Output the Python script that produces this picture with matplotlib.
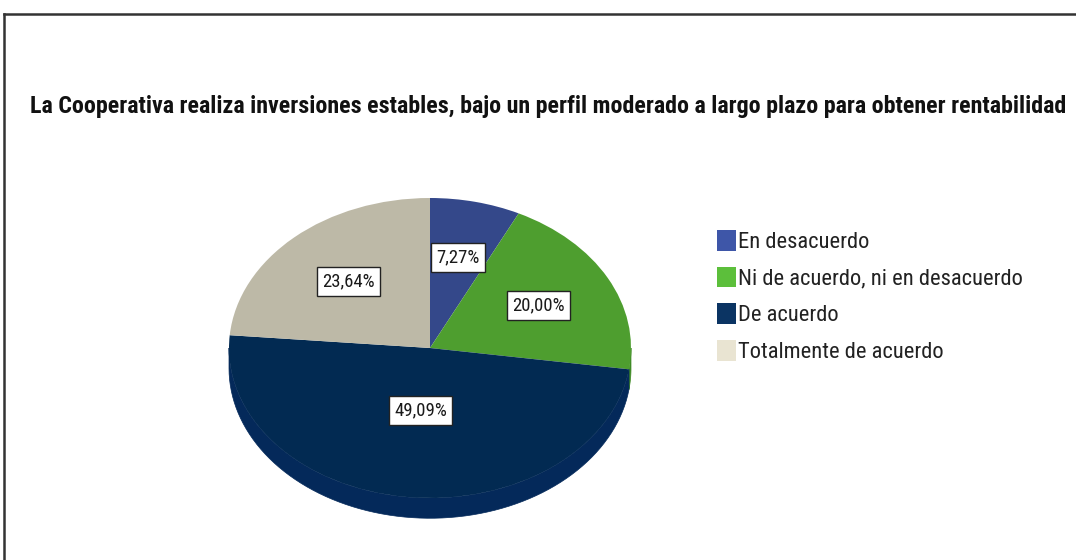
import numpy as np
import matplotlib
matplotlib.use("Agg")
import matplotlib.pyplot as plt
from matplotlib.patches import Patch, Polygon
from matplotlib.lines import Line2D

# Data (percent of respondents)
categories = ["En desacuerdo", "Ni de acuerdo, ni en desacuerdo", "De acuerdo", "Totalmente de acuerdo"]
values = [7.27, 20.00, 49.09, 23.64]
title = "La Cooperativa realiza inversiones estables, bajo un perfil moderado a largo plazo para obtener rentabilidad"

# Style
top_colors = ["#34488a", "#4e9e2f", "#022a52", "#bdb9a7"]
side_colors = ["#2b3c75", "#3f8a25", "#04295a", "#a9a593"]
legend_colors = ["#3e56a8", "#5cbf3b", "#0b3463", "#e9e4d2"]
label_dist = [0.62, 0.61, 0.42, 0.60]
NARROW = ["Roboto Condensed", "DejaVu Sans"]
DEPTH = 0.135

W, H = 1076, 560
fig = plt.figure(figsize=(W / 100, H / 100), dpi=100)
fig.patch.set_facecolor("white")

# pie axes: centre at (430, 348) px, x-radius 201 px, y-radius 150 px
xr, yr = 201, 150
cx, cy = 430, 348
xlim = (-1.1, 1.1)
ylim = (-1.3, 1.1)
left = (cx + xlim[0] * xr) / W
width = (xlim[1] - xlim[0]) * xr / W
bottom = (H - (cy - ylim[0] * yr)) / H
height = (ylim[1] - ylim[0]) * yr / H
ax = fig.add_axes([left, bottom, width, height])

wedges, _, autotexts = ax.pie(
    values, colors=top_colors, startangle=90, counterclock=False,
    autopct=lambda p: f"{p:.2f}%".replace(".", ","), pctdistance=0.6,
    wedgeprops=dict(linewidth=0, antialiased=True),
)
ax.set_aspect("auto")
ax.set_xlim(*xlim)
ax.set_ylim(*ylim)
ax.axis("off")

# side wall of the 3D pie (front half only)
for w, sc in zip(wedges, side_colors):
    t1, t2 = w.theta1, w.theta2
    for k in (-2, -1, 0, 1):
        a = max(t1, 180 + 360 * k)
        b = min(t2, 360 + 360 * k)
        if b > a:
            th = np.radians(np.linspace(a, b, 80))
            xs, ys = np.cos(th), np.sin(th)
            pts = np.vstack([np.column_stack([xs, ys]),
                             np.column_stack([xs[::-1], ys[::-1] - DEPTH])])
            ax.add_patch(Polygon(pts, closed=True, facecolor=sc, edgecolor=sc,
                                 linewidth=0.5, zorder=0))

# percentage labels in white boxes
for w, t, d in zip(wedges, autotexts, label_dist):
    mid = np.radians((w.theta1 + w.theta2) / 2)
    t.set_position((d * np.cos(mid), d * np.sin(mid)))
    t.set_family(NARROW)
    t.set_fontsize(13.5)
    t.set_color("#1a1a1a")
    t.set_bbox(dict(facecolor="white", edgecolor="#222222", linewidth=1.0, boxstyle="square,pad=0.28"))
    t.set_zorder(5)

fig.text(30 / W, 1 - 106 / H, title, ha="left", va="center", fontsize=17.3,
         fontweight="bold", family=NARROW, color="#111111")

handles = [Patch(facecolor=c, edgecolor="none") for c in legend_colors]
fig.legend(handles, categories, loc="upper left", bbox_to_anchor=(717 / W, 1 - 230 / H),
           frameon=False, prop=dict(family=NARROW, size=16.2), handlelength=0.85,
           handleheight=1.05, handletextpad=0.1, labelspacing=0.6, borderpad=0,
           borderaxespad=0, labelcolor="#222222")

# outer frame (top and left edges)
fig.add_artist(Line2D([4 / W, 1], [1 - 14 / H, 1 - 14 / H], color="#333333", linewidth=1.8))
fig.add_artist(Line2D([4 / W, 4 / W], [0, 1 - 14 / H], color="#333333", linewidth=1.8))

fig.savefig("out.png", dpi=100)
